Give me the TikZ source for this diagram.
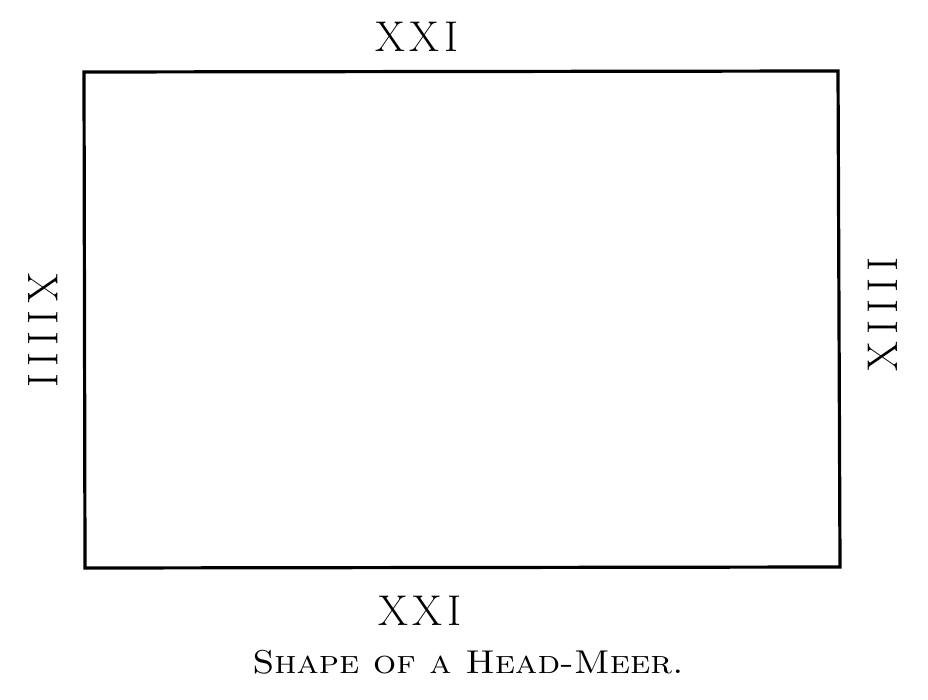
\documentclass[tikz,border=0pt]{standalone}
\usepackage{fontspec}
\usepackage{tikz}
\newcommand\luft{\kern7pt}
\tikzset{
  rand/.style={black,line width=3.2pt,line join=miter},
  zahl/.style={font=\fontsize{43}{46}\selectfont,inner sep=0pt},
  titel/.style={font=\fontsize{33}{36}\selectfont,inner sep=0pt,xscale=1.1},
}

\begin{document}
\begin{tikzpicture}[x=1pt,y=-1pt]
  \useasboundingbox (0,0) rectangle (928,700);
  % the meer itself
  \draw[rand] (84,72) -- (838,71) -- (840,567) -- (85,568) -- cycle;
  % lengths of the sides
  \node[zahl] (oben)   at (417,37)  {X\kern5pt X\kern5pt I};
  \node[zahl] (unten)  at (420,611) {X\kern5pt X\kern5pt I};
  \node[zahl,rotate=-90] (links)  at (43,331)  {X\luft I\luft I\luft I\luft I};
  \node[zahl,rotate=90]  (rechts) at (883,314) {X\luft I\luft I\luft I\luft I};
  \node[titel] (name) at (468,662) {\textsc{Shape of a Head-Meer.}};
\end{tikzpicture}
\end{document}
